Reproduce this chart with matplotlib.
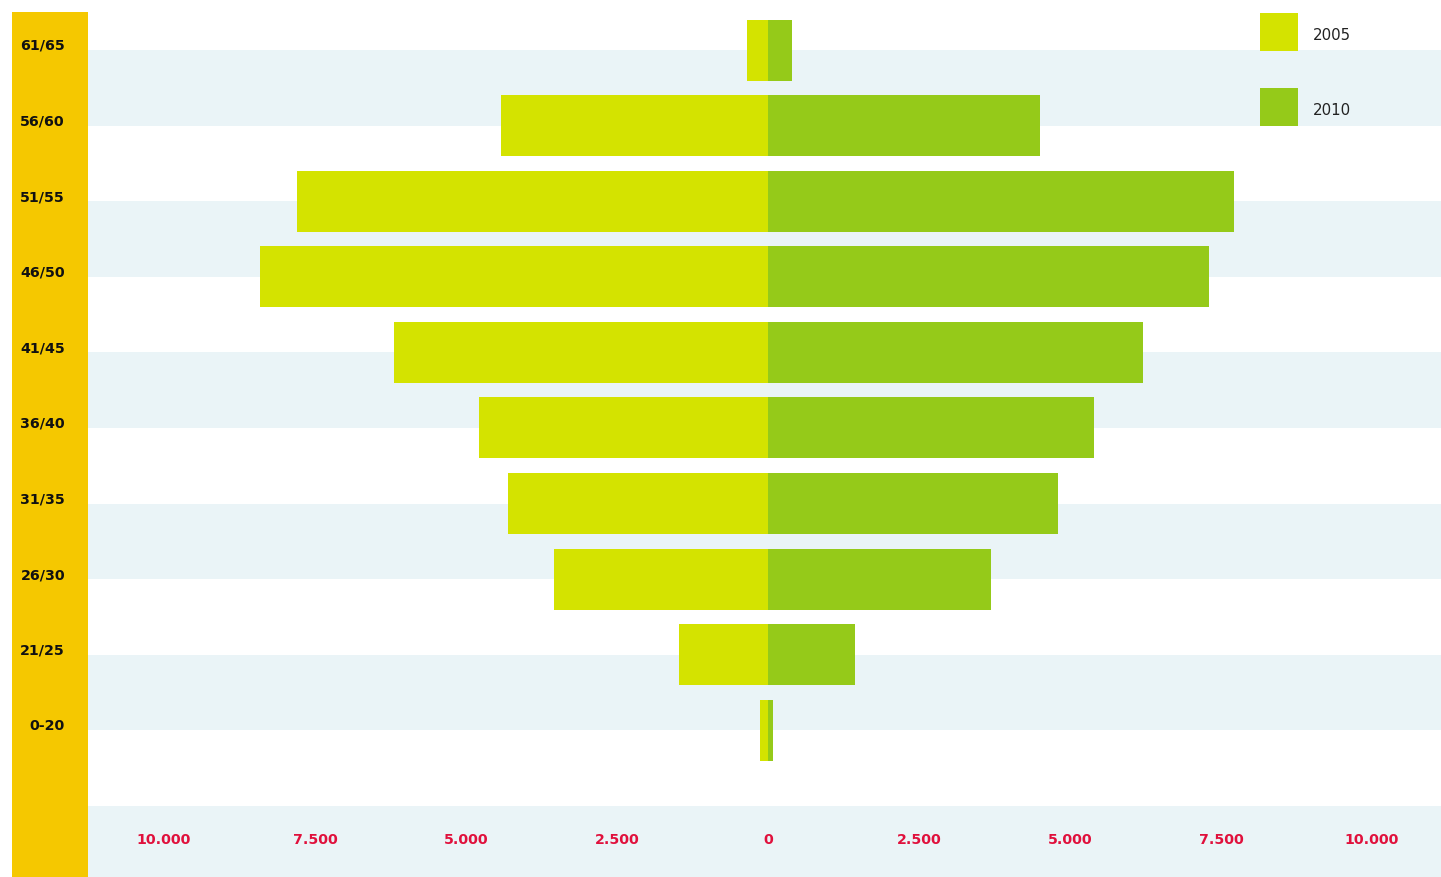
import matplotlib
matplotlib.use("Agg")
import matplotlib.pyplot as plt
from matplotlib.patches import Rectangle
from matplotlib.transforms import blended_transform_factory

# ---- data ----
age_groups = ["61/65", "56/60", "51/55", "46/50", "41/45", "36/40", "31/35", "26/30", "21/25", "0-20"]
values_2005 = [350, 4420, 7800, 8410, 6190, 4790, 4310, 3540, 1470, 130]
values_2010 = [400, 4500, 7710, 7300, 6210, 5400, 4800, 3690, 1440, 80]
tick_values = [-10000, -7500, -5000, -2500, 0, 2500, 5000, 7500, 10000]
series_names = ["2005", "2010"]

# ---- style ----
C2005 = "#d4e300"
C2010 = "#95ca19"
BAND = "#eaf4f7"
YCOL = "#f5c800"
RED = "#e0103c"
W, H = 1441, 878
plt.rcParams["font.family"] = ["DejaVu Sans"]

fig = plt.figure(figsize=(W / 100, H / 100), dpi=100)
ax = fig.add_axes([88 / W, 0, 1 - 88 / W, 1])
px_per_unit = 151 / 2500.0
ax.set_xlim((88 - 768) / px_per_unit, (W - 768) / px_per_unit)
row_px = 75.6
off = 51.0
y_top = -off / row_px
y_bot = (H - off) / row_px
ax.set_ylim(y_bot, y_top)
ax.axis("off")

n = len(age_groups)
# background bands
for k in range(0, n + 1, 2):
    ax.axhspan(k, k + 1, color=BAND, lw=0, zorder=0)

bar_h = 61 / row_px
ys = list(range(n))
ax.barh(ys, [-v for v in values_2005], height=bar_h, color=C2005, lw=0, zorder=2)
ax.barh(ys, values_2010, height=bar_h, color=C2010, lw=0, zorder=2)

# tick labels
tick_y = (844 - off) / row_px
for v in tick_values:
    lab = f"{abs(v):,}".replace(",", ".")
    ax.text(v, tick_y, lab, ha="center", va="baseline", color=RED,
            fontsize=10.2, fontweight="bold", zorder=3)

# yellow label column
fig.patches.append(Rectangle((12 / W, 0), 76 / W, (H - 12.5) / H,
                             transform=fig.transFigure, color=YCOL, lw=0, zorder=0))
trans = blended_transform_factory(fig.transFigure, ax.transData)
for i, g in enumerate(age_groups):
    fig.text(65 / W, i - 1.0 / row_px, g, transform=trans, ha="right", va="baseline",
             fontsize=10.3, fontweight="bold", color="#111111")

# legend
for j, (name, c) in enumerate(zip(series_names, [C2005, C2010])):
    top = 13.5 + j * 75
    fig.patches.append(Rectangle((1260 / W, 1 - (top + 38) / H), 38 / W, 38 / H,
                                 transform=fig.transFigure, color=c, lw=0, zorder=3))
    fig.text(1313 / W, 1 - (top + 26.5) / H, name, ha="left", va="baseline",
             fontsize=10.8, color="#222222")

fig.savefig("out.png", dpi=100)
